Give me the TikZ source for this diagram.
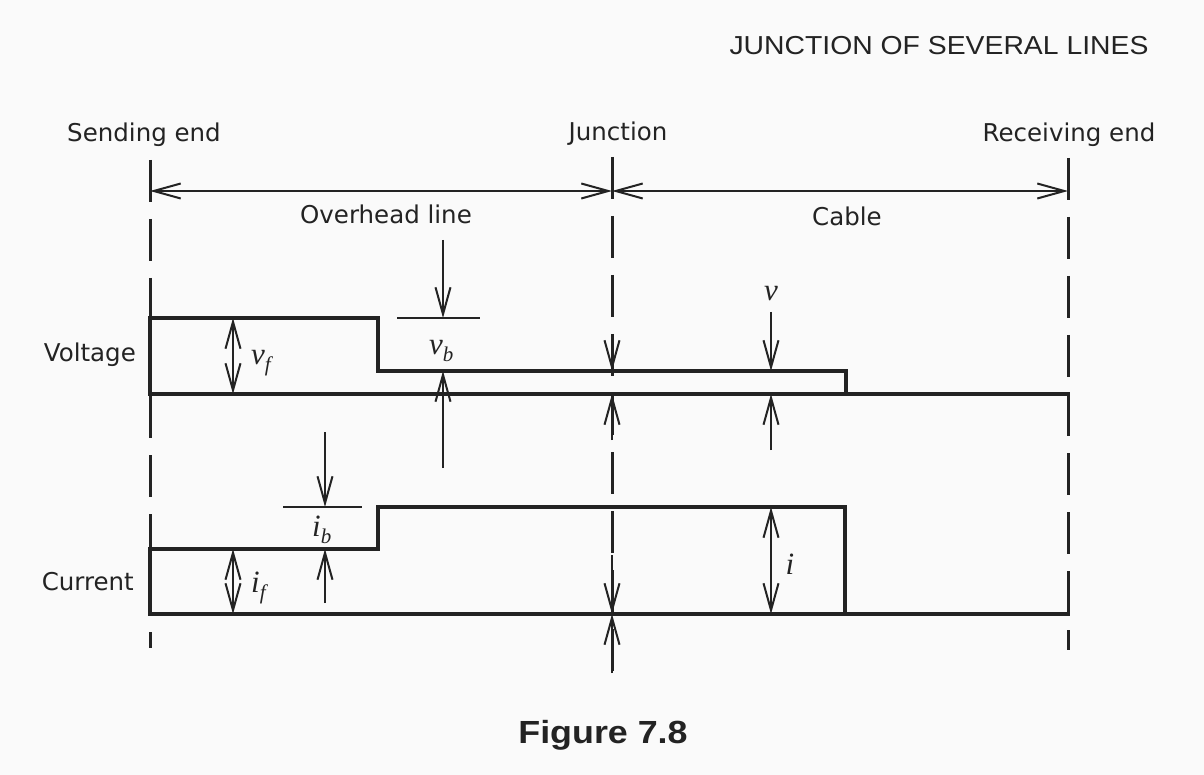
\documentclass[tikz,border=0pt]{standalone}
\usepackage{fontspec}
\setmainfont{DejaVu Sans}
\newfontfamily\hdrfont{Liberation Sans}
\newfontfamily\mthfont{Liberation Serif}
\usetikzlibrary{arrows.meta}
\definecolor{ink}{RGB}{35,35,35}
\definecolor{paper}{RGB}{250,250,250}
\newcommand\mlab[2]{{\mthfont\itshape\fontsize{31}{31}\selectfont #1}\raisebox{-7pt}{\mthfont\itshape\fontsize{21}{21}\selectfont #2}}
\tikzset{
  thickline/.style={draw=ink, line width=4.6pt, line join=miter, line cap=rect},
  dimline/.style={draw=ink, line width=2pt},
  dashline/.style={draw=ink, line width=3pt, dash pattern=on 42pt off 17pt},
  barb/.tip={Straight Barb[length=27pt,width=15pt,line width=2pt]},
  oneway/.style={dimline, -barb},
  twoway/.style={dimline, barb-barb},
  lab/.style={text=ink, font=\fontsize{24.5}{24.5}\selectfont, inner sep=0pt, anchor=base},
  mlabel/.style={text=ink, inner sep=0pt, anchor=base west},
}
\begin{document}
\begin{tikzpicture}[x=1pt,y=-1pt]
\fill[paper] (0,0) rectangle (1204,775);
\useasboundingbox (0,0) rectangle (1204,775);

% header and caption
\node[text=ink, inner sep=0pt, anchor=base] (hdr) at (939,55)
  {\hdrfont\fontsize{26}{26}\selectfont\scalebox{1.09}[1]{JUNCTION OF SEVERAL LINES}};
\node[text=ink, inner sep=0pt, anchor=base] (cap) at (603,743)
  {\hdrfont\bfseries\fontsize{32}{32}\selectfont\scalebox{1.12}[1]{Figure 7.8}};

% key coordinates
\coordinate (sT) at (150,160);  \coordinate (sB) at (150,648);
\coordinate (jT) at (612,157);  \coordinate (jB) at (612,673);
\coordinate (rT) at (1068,158); \coordinate (rB) at (1068,650);

% vertical dashed lines
\draw[dashline] (sT) -- (sB);
\draw[dashline] (jT) -- (jB);
\draw[dashline] (rT) -- (rB);

% top labels
\node[lab] (send) at (144,142) {Sending end};
\node[lab] (junc) at (618,141) {Junction};
\node[lab] (recv) at (1069,142) {Receiving end};
\node[lab] (ohl) at (386,224) {Overhead line};
\node[lab] (cab) at (847,226) {Cable};

% length dimension lines
\coordinate (dS) at (150,191);
\coordinate (dJ) at (612,191);
\coordinate (dR) at (1068,191);
\draw[twoway] (dS) -- (dJ);
\draw[twoway] (dJ) -- (dR);

% voltage waveform
\node[lab, anchor=base east] (volt) at (136,362) {Voltage};
\draw[thickline] (150,394) -- (150,318) -- (378,318) -- (378,371) -- (846,371) -- (846,394);
\draw[thickline] (150,394) -- (1068,394);

% v_f
\draw[twoway] (233,318) -- (233,394);
\node[mlabel] (vf) at (251,364) {\mlab{v}{f}};

% v_b
\coordinate (vbext1) at (397,318); \coordinate (vbext2) at (480,318);
\draw[dimline] (vbext1) -- (vbext2);
\draw[oneway] (443,240) -- (443,318);
\draw[oneway] (443,468) -- (443,371);
\node[mlabel] (vb) at (429,354) {\mlab{v}{b}};

% v at junction
\draw[oneway] (612,343) -- (612,371);
\draw[oneway] (612,440) -- (612,394);

% v on cable
\draw[oneway] (771,312) -- (771,371);
\draw[oneway] (771,450) -- (771,394);
\node[text=ink, inner sep=0pt, anchor=base] (v) at (771,301) {\mthfont\itshape\fontsize{31}{31}\selectfont v};

% current waveform
\node[lab, anchor=base east] (curr) at (134,590) {Current};
\draw[thickline] (150,614) -- (150,549) -- (378,549) -- (378,507) -- (845,507) -- (845,614);
\draw[thickline] (150,614) -- (1068,614);

% i_f
\draw[twoway] (233,549) -- (233,614);
\node[mlabel] (if) at (251,592) {\mlab{i}{f}};

% i_b
\coordinate (ibext1) at (283,507); \coordinate (ibext2) at (362,507);
\draw[dimline] (ibext1) -- (ibext2);
\draw[oneway] (325,432) -- (325,507);
\draw[oneway] (325,603) -- (325,549);
\node[mlabel] (ib) at (312,536) {\mlab{i}{b}};

% i at junction
\draw[oneway] (612,555) -- (612,614);
\draw[oneway] (612,673) -- (612,614);

% i on cable
\draw[twoway] (771,507) -- (771,614);
\node[text=ink, inner sep=0pt, anchor=base] (i) at (790,574) {\mthfont\itshape\fontsize{31}{31}\selectfont i};
\end{tikzpicture}
\end{document}
